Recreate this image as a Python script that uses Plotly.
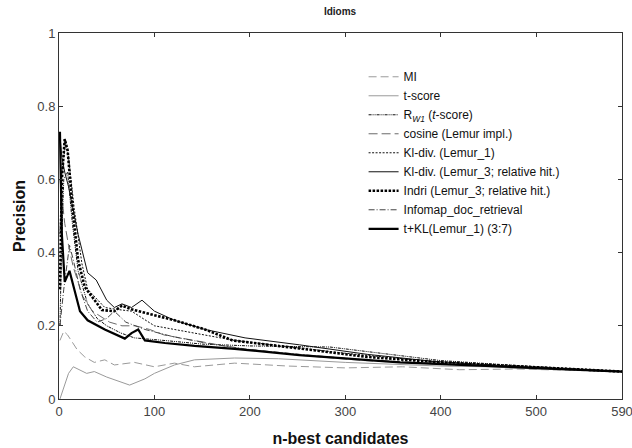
import plotly.graph_objects as go

series_names = [
    "MI",
    "t-score",
    "R<sub><i>W1</i></sub> (<i>t</i>-score)",
    "cosine (Lemur impl.)",
    "Kl-div. (Lemur_1)",
    "Kl-div. (Lemur_3; relative hit.)",
    "Indri (Lemur_3; relative hit.)",
    "Infomap_doc_retrieval",
    "t+KL(Lemur_1) (3:7)",
]

mi_x = [1, 5, 9, 19, 27, 37, 48, 58, 79, 100, 121, 142, 184, 240, 300, 360, 420, 480, 540, 590]
mi_y = [0.16, 0.185, 0.175, 0.135, 0.115, 0.10, 0.107, 0.093, 0.10, 0.088, 0.098, 0.088, 0.098, 0.09, 0.085, 0.088, 0.08, 0.082, 0.078, 0.075]

ts_x = [1, 5, 10, 15, 22, 29, 37, 50, 74, 90, 100, 121, 142, 184, 230, 300, 350, 400, 450, 500, 590]
ts_y = [0.0, 0.03, 0.07, 0.088, 0.08, 0.07, 0.075, 0.06, 0.038, 0.055, 0.07, 0.093, 0.107, 0.112, 0.11, 0.10, 0.095, 0.09, 0.088, 0.082, 0.075]

rw_x = [1, 3, 5, 9, 14, 20, 30, 40, 50, 65, 79, 90, 110, 150, 200, 284, 340, 400, 500, 590]
rw_y = [0.2, 0.45, 0.6, 0.62, 0.48, 0.35, 0.26, 0.22, 0.2, 0.18, 0.167, 0.165, 0.16, 0.15, 0.145, 0.142, 0.125, 0.105, 0.088, 0.075]

cos_x = [1, 3, 6, 10, 15, 25, 35, 53, 66, 80, 95, 110, 140, 184, 250, 320, 400, 500, 590]
cos_y = [0.6, 0.55, 0.48, 0.42, 0.36, 0.28, 0.24, 0.21, 0.2, 0.2, 0.19, 0.175, 0.16, 0.14, 0.12, 0.105, 0.095, 0.085, 0.075]

kl1_x = [1, 3, 7, 10, 16, 24, 30, 48, 60, 76, 100, 135, 184, 250, 300, 400, 500, 590]
kl1_y = [0.45, 0.62, 0.70, 0.66, 0.52, 0.37, 0.30, 0.25, 0.245, 0.24, 0.20, 0.183, 0.16, 0.14, 0.125, 0.10, 0.088, 0.075]

kl3_x = [1, 3, 6, 10, 20, 30, 39, 50, 58, 66, 76, 87, 100, 121, 153, 195, 252, 323, 392, 470, 590]
kl3_y = [0.72, 0.66, 0.62, 0.58, 0.45, 0.345, 0.325, 0.27, 0.25, 0.26, 0.25, 0.27, 0.24, 0.215, 0.19, 0.167, 0.148, 0.122, 0.103, 0.09, 0.075]

indri_x = [1, 3, 6, 9, 15, 20, 27, 45, 58, 66, 76, 100, 121, 153, 182, 252, 323, 400, 490, 590]
indri_y = [0.3, 0.6, 0.71, 0.68, 0.5, 0.38, 0.306, 0.243, 0.24, 0.255, 0.245, 0.23, 0.215, 0.19, 0.16, 0.138, 0.115, 0.10, 0.088, 0.075]

info_x = [1, 5, 11, 15, 22, 30, 40, 50, 58, 70, 90, 120, 160, 200, 260, 330, 420, 500, 590]
info_y = [0.2, 0.3, 0.42, 0.38, 0.3, 0.24, 0.21, 0.22, 0.24, 0.21, 0.19, 0.17, 0.15, 0.135, 0.12, 0.105, 0.095, 0.085, 0.075]

tkl_x = [1, 3, 6, 11, 16, 22, 30, 48, 69, 76, 83, 90, 111, 142, 184, 252, 357, 462, 590]
tkl_y = [0.73, 0.45, 0.32, 0.35, 0.30, 0.24, 0.215, 0.19, 0.165, 0.18, 0.19, 0.16, 0.153, 0.145, 0.137, 0.12, 0.10, 0.088, 0.075]

x_tickvals = [0, 100, 200, 300, 400, 500, 590]
y_tickvals = [0, 0.2, 0.4, 0.6, 0.8, 1]
y_ticktext = ["0", "0.2", "0.4", "0.6", "0.8", "1"]

data = [
    (mi_x, mi_y, dict(color="#9a9a9a", width=1, dash="8px,4px")),
    (ts_x, ts_y, dict(color="#9a9a9a", width=1, dash="solid")),
    (rw_x, rw_y, dict(color="#111111", width=1, dash="3px,1px,1px,1px,1px,1px")),
    (cos_x, cos_y, dict(color="#6a6a6a", width=1, dash="9px,4px")),
    (kl1_x, kl1_y, dict(color="#111111", width=1, dash="2px,1.5px")),
    (kl3_x, kl3_y, dict(color="#111111", width=1, dash="solid")),
    (indri_x, indri_y, dict(color="#000000", width=2.6, dash="2.5px,1.5px")),
    (info_x, info_y, dict(color="#444444", width=1, dash="6px,2px,1px,2px")),
    (tkl_x, tkl_y, dict(color="#000000", width=2.2, dash="solid")),
]

fig = go.Figure()
for name, (xs, ys, ln) in zip(series_names, data):
    fig.add_trace(go.Scatter(x=xs, y=ys, mode="lines", name=name, line=ln))

axis_common = dict(
    showline=True, linecolor="#333333", linewidth=1, mirror="ticks",
    ticks="inside", ticklen=4, tickcolor="#333333",
    showgrid=False, zeroline=False, ticklabeloverflow="allow",
    tickfont=dict(family="Liberation Sans, Arial", size=13, color="#444444"),
)

fig.update_layout(
    width=632, height=448,
    margin=dict(l=59, r=10, t=33, b=49),
    paper_bgcolor="white", plot_bgcolor="white",
    title=dict(text="<b>Idioms</b>", x=0.538, xanchor="center", y=0.975, yanchor="middle",
               font=dict(family="Liberation Sans, Arial", size=10, color="#222222")),
    xaxis=dict(range=[0, 590], tickvals=x_tickvals, automargin=False,
               title=dict(text="<b>n-best candidates</b>",
                          font=dict(family="Liberation Sans, Arial", size=16, color="#111111")),
               **axis_common),
    yaxis=dict(range=[0, 1], tickvals=y_tickvals, ticktext=y_ticktext, automargin=True,
               title=dict(text="<b>Precision</b>", standoff=7,
                          font=dict(family="Liberation Sans, Arial", size=16, color="#111111")),
               **axis_common),
    legend=dict(x=0.541, y=0.92, xanchor="left", yanchor="top",
                bgcolor="rgba(255,255,255,0)", borderwidth=0,
                font=dict(family="Liberation Sans, Arial", size=12, color="#111111"),
                tracegroupgap=0, itemwidth=30),
    showlegend=True,
)

fig.write_html("out.html", config={"displayModeBar": False},
               post_script="document.body.style.margin='0';document.body.style.overflow='hidden';")
